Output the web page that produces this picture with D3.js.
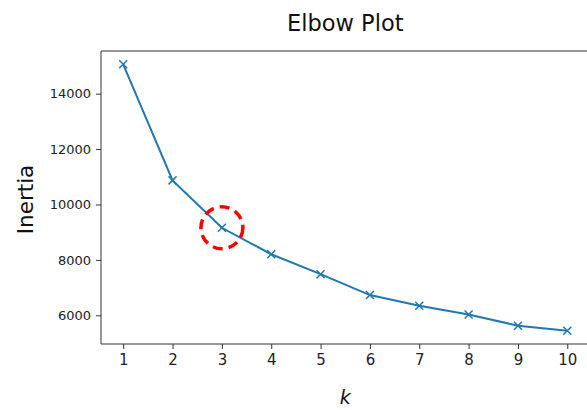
<!DOCTYPE html>
<html>
<head>
<meta charset="utf-8">
<script src="https://cdn.jsdelivr.net/npm/d3@7"></script>
<style>
  html, body { margin: 0; padding: 0; background: #fff; }
  svg { display: block; font-family: "DejaVu Sans", sans-serif; }
</style>
</head>
<body>
<svg id="chart" width="587" height="410"></svg>
<script>
// Number of clusters tried and the resulting inertia
const kValues = [1, 2, 3, 4, 5, 6, 7, 8, 9, 10];
const inertia = [15060, 10870, 9160, 8205, 7485, 6730, 6345, 6030, 5625, 5445];
const yTicks = [6000, 8000, 10000, 12000, 14000];
const xTicks = [1, 2, 3, 4, 5, 6, 7, 8, 9, 10];
const elbowK = 3;

const svg = d3.select("#chart");
const plot = { left: 101, right: 589.5, top: 51, bottom: 344 };

// Axis limits padded by 5% of the data span on each side
const xPad = (d3.max(kValues) - d3.min(kValues)) * 0.05;
const yPad = (d3.max(inertia) - d3.min(inertia)) * 0.05;

const x = d3.scaleLinear()
  .domain([d3.min(kValues) - xPad, d3.max(kValues) + xPad])
  .range([plot.left, plot.right]);
const y = d3.scaleLinear()
  .domain([d3.min(inertia) - yPad, d3.max(inertia) + yPad])
  .range([plot.bottom, plot.top]);

const axisColor = "#333";

// Axes
const xAxis = svg.append("g")
  .attr("transform", `translate(0,${plot.bottom})`)
  .call(d3.axisBottom(x).tickValues(xTicks).tickSize(5).tickPadding(5).tickFormat(d3.format("d")));
const yAxis = svg.append("g")
  .attr("transform", `translate(${plot.left},0)`)
  .call(d3.axisLeft(y).tickValues(yTicks).tickSize(5).tickPadding(5).tickFormat(d3.format("d")));

[xAxis, yAxis].forEach(g => {
  g.select(".domain").remove();
  g.selectAll(".tick line").attr("stroke", axisColor).attr("stroke-width", 1);
  g.selectAll(".tick text").attr("fill", "#222").attr("font-family", "DejaVu Sans, sans-serif");
});
xAxis.selectAll(".tick text").attr("font-size", 15);
yAxis.selectAll(".tick text").attr("font-size", 13);

// Spines (left, top, bottom; the right one falls outside the canvas)
svg.append("line").attr("x1", plot.left).attr("x2", plot.left)
  .attr("y1", plot.top).attr("y2", plot.bottom)
  .attr("stroke", axisColor).attr("stroke-width", 1);
svg.append("line").attr("x1", plot.left).attr("x2", plot.right)
  .attr("y1", plot.top).attr("y2", plot.top)
  .attr("stroke", axisColor).attr("stroke-width", 1);
svg.append("line").attr("x1", plot.left).attr("x2", plot.right)
  .attr("y1", plot.bottom).attr("y2", plot.bottom)
  .attr("stroke", axisColor).attr("stroke-width", 1);

// Inertia curve
const pts = kValues.map((k, i) => [k, inertia[i]]);
const lineColor = "#1f77b4";
svg.append("path")
  .datum(pts)
  .attr("fill", "none")
  .attr("stroke", lineColor)
  .attr("stroke-width", 2)
  .attr("d", d3.line().x(d => x(d[0])).y(d => y(d[1])));

// "x" markers
const m = 4;
const marks = svg.append("g").selectAll("g").data(pts).join("g")
  .attr("transform", d => `translate(${x(d[0])},${y(d[1])})`);
marks.append("path")
  .attr("d", `M${-m},${-m}L${m},${m}M${-m},${m}L${m},${-m}`)
  .attr("stroke", lineColor).attr("stroke-width", 1.5).attr("fill", "none");

// Dashed circle highlighting the elbow
const ei = kValues.indexOf(elbowK);
svg.append("circle")
  .attr("cx", x(kValues[ei]))
  .attr("cy", y(inertia[ei]))
  .attr("r", 21)
  .attr("fill", "none")
  .attr("stroke", "red")
  .attr("stroke-width", 3.5)
  .attr("stroke-dasharray", "10 6");

// Labels
svg.append("text")
  .attr("x", (plot.left + plot.right) / 2)
  .attr("y", 31)
  .attr("text-anchor", "middle")
  .attr("font-size", 22.5)
  .attr("fill", "#111")
  .text("Elbow Plot");

svg.append("text")
  .attr("x", (plot.left + plot.right) / 2)
  .attr("y", 404)
  .attr("text-anchor", "middle")
  .attr("font-size", 19)
  .attr("font-style", "italic")
  .attr("fill", "#111")
  .text("k");

svg.append("text")
  .attr("transform", `translate(32.5,${(plot.top + plot.bottom) / 2 + 2}) rotate(-90)`)
  .attr("text-anchor", "middle")
  .attr("font-size", 21.5)
  .attr("fill", "#111")
  .text("Inertia");
</script>
</body>
</html>
